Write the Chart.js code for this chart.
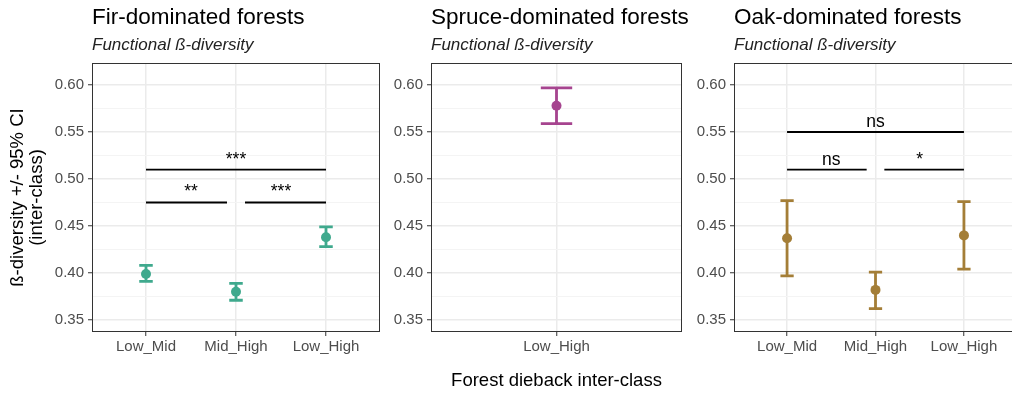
<!DOCTYPE html>
<html>
<head>
<meta charset="utf-8">
<script src="https://cdn.jsdelivr.net/npm/chart.js@4.4.1/dist/chart.umd.min.js"></script>
<style>
html, body { margin: 0; padding: 0; background: #fff; overflow: hidden; }
#wrap { position: relative; width: 1012px; height: 394px; overflow: hidden; }
canvas { position: absolute; top: 0; }
</style>
</head>
<body>
<div id="wrap">
  <canvas id="fir" width="390" height="394" style="left:0px"></canvas>
  <canvas id="spruce" width="300" height="394" style="left:390px"></canvas>
  <canvas id="oak" width="332" height="394" style="left:690px"></canvas>
</div>
<script>
// values
const firCats = ['Low_Mid', 'Mid_High', 'Low_High'];
const firMean = [0.399, 0.380, 0.438];
const firLow = [0.391, 0.371, 0.428];
const firHigh = [0.408, 0.389, 0.449];
const firSigFrom = [1, 2.1, 1];
const firSigTo = [1.9, 3, 3];
const firSigY = [0.475, 0.475, 0.51];
const firSigLabelX = [1.5, 2.5, 2];
const firSigText = ['**', '***', '***'];

const spruceCats = ['Low_High'];
const spruceMean = [0.578];
const spruceLow = [0.559];
const spruceHigh = [0.597];

const oakCats = ['Low_Mid', 'Mid_High', 'Low_High'];
const oakMean = [0.437, 0.382, 0.440];
const oakLow = [0.397, 0.362, 0.404];
const oakHigh = [0.477, 0.401, 0.476];
const oakSigFrom = [1, 2.1, 1];
const oakSigTo = [1.9, 3, 3];
const oakSigY = [0.51, 0.51, 0.55];
const oakSigLabelX = [1.5, 2.5, 2];
const oakSigText = ['ns', '*', 'ns'];

const yMajorTicks = ['0.35', '0.40', '0.45', '0.50', '0.55', '0.60'];
const yMin = 0.3372, yMax = 0.6234;

const FONT = "'Liberation Sans', Arial, sans-serif";
const capHalf = 0.075;

function errorBarPoints(low, high) {
    let pts = [];
    low.forEach((lo, i) => {
        let x = i + 1;
        pts.push({x: x, y: lo}, {x: x, y: high[i]}, {x: x, y: null});
        pts.push({x: x - capHalf, y: high[i]}, {x: x + capHalf, y: high[i]}, {x: x, y: null});
        pts.push({x: x - capHalf, y: lo}, {x: x + capHalf, y: lo}, {x: x, y: null});
    });
    return pts;
}

function sigPoints(from, to, ys) {
    let pts = [];
    from.forEach((f, i) => {
        pts.push({x: f, y: ys[i]}, {x: to[i], y: ys[i]}, {x: f, y: null});
    });
    return pts;
}

function isMajor(v) {
    return yMajorTicks.includes(v.toFixed(2)) && Math.round(v * 1000) % 50 === 0;
}

const panelPlugin = {
    id: 'panel',
    afterDatasetsDraw(chart, args, opts) {
        const ctx = chart.ctx;
        const xs = chart.scales.x, ys = chart.scales.y;
        ctx.save();
        ctx.fillStyle = '#000';
        ctx.font = '17.5px ' + FONT;
        ctx.textAlign = 'center';
        ctx.textBaseline = 'alphabetic';
        (opts.sigText || []).forEach((t, i) => {
            ctx.fillText(t, xs.getPixelForValue(opts.sigX[i]), ys.getPixelForValue(opts.sigY[i]) - 5);
        });
        ctx.restore();
    },
    afterDraw(chart, args, opts) {
        const ctx = chart.ctx;
        const a = chart.chartArea;
        ctx.save();
        ctx.strokeStyle = '#333';
        ctx.lineWidth = 1;
        ctx.strokeRect(Math.round(a.left) + 0.5, Math.round(a.top) + 0.5,
            Math.round(a.right - a.left) - 1, Math.round(a.bottom - a.top) - 1);
        ctx.textAlign = 'left';
        ctx.textBaseline = 'alphabetic';
        ctx.fillStyle = '#000';
        ctx.font = '22.5px ' + FONT;
        ctx.fillText(opts.title, a.left, 24);
        ctx.fillStyle = '#222';
        ctx.font = 'italic 17px ' + FONT;
        ctx.fillText(opts.subtitle, a.left, 50);
        ctx.restore();
    }
};

function makePanel(id, cats, mean, low, high, color, yAxisWidth, padRight, extra) {
    let datasets = [
        {
            data: errorBarPoints(low, high),
            borderColor: color,
            borderWidth: 2.8,
            pointRadius: 0,
            spanGaps: false,
            order: 3
        },
        {
            data: mean.map((m, i) => ({x: i + 1, y: m})),
            showLine: false,
            pointRadius: 5,
            pointBorderWidth: 0,
            pointBackgroundColor: color,
            order: 1
        }
    ];
    if (extra.sigFrom) {
        datasets.push({
            data: sigPoints(extra.sigFrom, extra.sigTo, extra.sigY),
            borderColor: '#000',
            borderWidth: 1.8,
            pointRadius: 0,
            spanGaps: false,
            order: 2
        });
    }
    return new Chart(document.getElementById(id), {
        type: 'line',
        data: { datasets: datasets },
        options: {
            responsive: false,
            animation: false,
            events: [],
            layout: { padding: { top: 63, right: padRight, bottom: 0, left: 0 } },
            scales: {
                x: {
                    type: 'linear',
                    min: 0.4,
                    max: cats.length + 0.6,
                    afterFit: (scale) => { scale.height = 62; },
                    border: { display: false },
                    grid: {
                        color: '#EBEBEB',
                        lineWidth: 1.5,
                        tickColor: '#333',
                        tickLength: 4,
                        tickWidth: 1
                    },
                    ticks: {
                        stepSize: 1,
                        includeBounds: false,
                        autoSkip: false,
                        maxRotation: 0,
                        padding: 2,
                        color: '#4D4D4D',
                        font: { family: FONT, size: 15 },
                        callback: (v) => cats[Math.round(v) - 1]
                    },
                    title: {
                        display: !!extra.xTitle,
                        text: extra.xTitle || '',
                        color: '#000',
                        font: { family: FONT, size: 18.5 },
                        padding: { top: 0, bottom: 2 }
                    }
                },
                y: {
                    type: 'linear',
                    min: yMin,
                    max: yMax,
                    afterFit: (scale) => { scale.width = yAxisWidth; },
                    border: { display: false },
                    grid: {
                        color: (c) => isMajor(c.tick.value) ? '#EBEBEB' : '#F4F4F4',
                        lineWidth: (c) => isMajor(c.tick.value) ? 1.5 : 1,
                        tickColor: (c) => isMajor(c.tick.value) ? '#333' : 'rgba(0,0,0,0)',
                        tickLength: 4,
                        tickWidth: 1
                    },
                    ticks: {
                        stepSize: 0.025,
                        maxTicksLimit: 20,
                        includeBounds: false,
                        padding: 4,
                        color: '#4D4D4D',
                        font: { family: FONT, size: 15 },
                        callback: (v) => isMajor(v) ? v.toFixed(2) : ''
                    },
                    title: {
                        display: !!extra.yTitle,
                        text: extra.yTitle || '',
                        color: '#000',
                        font: { family: FONT, size: 18.5, lineHeight: 1.03 },
                        padding: { top: 8.5, bottom: 0 }
                    }
                }
            },
            plugins: {
                legend: { display: false },
                tooltip: { enabled: false },
                panel: {
                    title: extra.title,
                    subtitle: 'Functional ß-diversity',
                    sigText: extra.sigText,
                    sigX: extra.sigX,
                    sigY: extra.sigY
                }
            }
        },
        plugins: [panelPlugin]
    });
}

makePanel('fir', firCats, firMean, firLow, firHigh, '#3FA98D', 92, 10, {
    title: 'Fir-dominated forests',
    yTitle: ['ß-diversity +/- 95% CI', '(inter-class)'],
    sigFrom: firSigFrom, sigTo: firSigTo, sigY: firSigY,
    sigX: firSigLabelX, sigText: firSigText
});

makePanel('spruce', spruceCats, spruceMean, spruceLow, spruceHigh, '#A6448F', 41, 8, {
    title: 'Spruce-dominated forests',
    xTitle: 'Forest dieback inter-class'
});

makePanel('oak', oakCats, oakMean, oakLow, oakHigh, '#A47E37', 44, 0, {
    title: 'Oak-dominated forests',
    sigFrom: oakSigFrom, sigTo: oakSigTo, sigY: oakSigY,
    sigX: oakSigLabelX, sigText: oakSigText
});
</script>
</body>
</html>
